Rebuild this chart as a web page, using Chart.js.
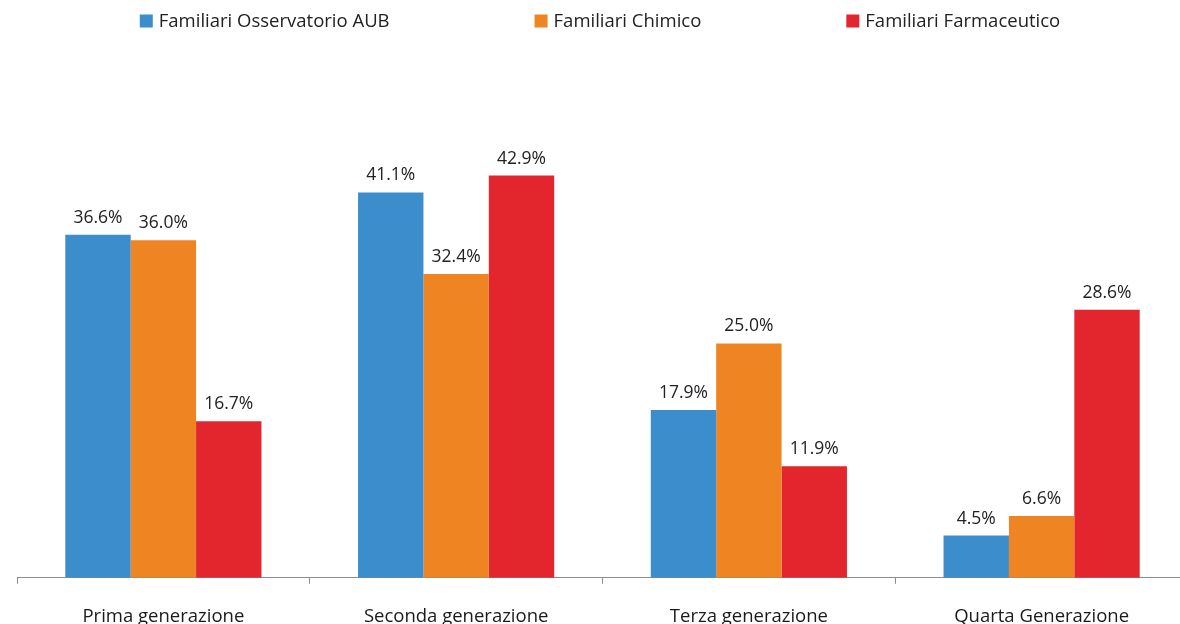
<!DOCTYPE html>
<html>
<head>
<meta charset="utf-8">
<script src="https://cdn.jsdelivr.net/npm/chart.js@4"></script>
<style>
  html, body { margin: 0; padding: 0; background: #fff; overflow: hidden; }
  #wrap { position: absolute; left: 0; top: 0; width: 1188px; height: 650px; }
</style>
</head>
<body>
<div id="wrap"><canvas id="c"></canvas></div>
<script>
const categories = ["Prima generazione", "Seconda generazione", "Terza generazione", "Quarta Generazione"];
const seriesNames = ["Familiari Osservatorio AUB", "Familiari Chimico", "Familiari Farmaceutico"];
const aubValues = [36.6, 41.1, 17.9, 4.5];
const chimicoValues = [36.0, 32.4, 25.0, 6.6];
const farmaValues = [16.7, 42.9, 11.9, 28.6];
const seriesColors = ["#3B8DCB", "#EF8422", "#E3262E"];

const FONT = "'Open Sans', 'DejaVu Sans', sans-serif";

const legendPlugin = {
  id: 'customLegend',
  afterDraw(chart) {
    const ctx = chart.ctx;
    ctx.save();
    ctx.font = "18.5px " + FONT;
    ctx.textBaseline = 'middle';
    ctx.textAlign = 'left';
    const box = 13, boxGap = 6, itemGap = 145;
    const widths = chart.data.datasets.map(d => box + boxGap + ctx.measureText(d.label).width);
    const total = widths.reduce((a, b) => a + b, 0) + itemGap * (widths.length - 1);
    let x = 600 - total / 2;
    const cy = 21;
    chart.data.datasets.forEach((d, i) => {
      ctx.fillStyle = d.backgroundColor;
      ctx.fillRect(x, cy - box / 2, box, box);
      ctx.fillStyle = '#222222';
      ctx.fillText(d.label, x + box + boxGap, cy + 1);
      x += widths[i] + itemGap;
    });
    ctx.restore();
  }
};

const valueLabelPlugin = {
  id: 'valueLabels',
  afterDatasetsDraw(chart) {
    const ctx = chart.ctx;
    ctx.save();
    ctx.font = "17.5px " + FONT;
    ctx.fillStyle = '#222222';
    ctx.textAlign = 'center';
    ctx.textBaseline = 'alphabetic';
    chart.data.datasets.forEach((ds, di) => {
      const meta = chart.getDatasetMeta(di);
      meta.data.forEach((bar, i) => {
        ctx.fillText(ds.data[i].toFixed(1) + '%', bar.x, bar.y - 12);
      });
    });
    ctx.restore();
  }
};

new Chart(document.getElementById('c'), {
  type: 'bar',
  data: {
    labels: categories,
    datasets: [
      { label: seriesNames[0], data: aubValues, backgroundColor: seriesColors[0] },
      { label: seriesNames[1], data: chimicoValues, backgroundColor: seriesColors[1] },
      { label: seriesNames[2], data: farmaValues, backgroundColor: seriesColors[2] }
    ]
  },
  options: {
    responsive: true,
    maintainAspectRatio: false,
    animation: false,
    devicePixelRatio: 1,
    layout: { padding: { left: 17, right: 0, top: 109, bottom: 0 } },
    datasets: { bar: { categoryPercentage: 0.67, barPercentage: 1.0 } },
    plugins: {
      legend: { display: false },
      tooltip: { enabled: false }
    },
    scales: {
      x: {
        offset: true,
        grid: { display: true, offset: true, drawOnChartArea: false, drawTicks: true, tickLength: 6, color: '#8c8c8c', lineWidth: 1 },
        border: { display: true, color: '#8c8c8c', width: 1 },
        ticks: { color: '#1a1a1a', font: { size: 18.5, family: FONT }, padding: 22, maxRotation: 0, autoSkip: false }
      },
      y: {
        display: false,
        min: 0,
        max: 50
      }
    }
  },
  plugins: [legendPlugin, valueLabelPlugin]
});
</script>
</body>
</html>
